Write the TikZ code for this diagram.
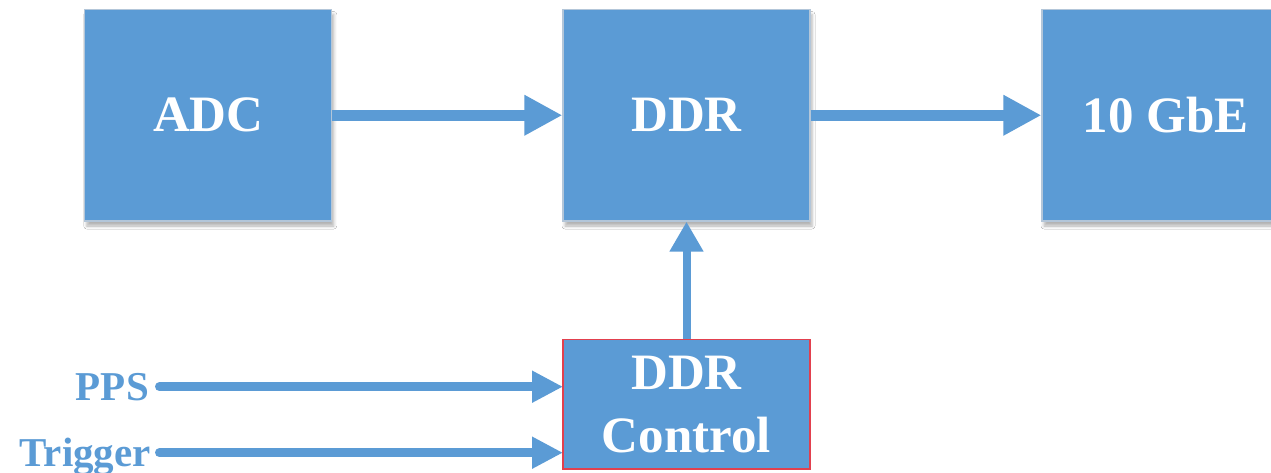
\documentclass[tikz,border=0pt]{standalone}
\usepackage{fontspec}
\setmainfont{Liberation Serif}
\usetikzlibrary{arrows.meta,shadows.blur}
\definecolor{boxblue}{HTML}{5B9BD5}
\definecolor{boxedge}{HTML}{B3C6D9}
\definecolor{ctrledge}{HTML}{E2404E}
\begin{document}
\begin{tikzpicture}[x=1pt,y=-1pt,
  block/.style={fill=boxblue, draw=boxedge, line width=1.2pt,
    minimum width=247pt, minimum height=211.5pt, inner sep=0pt,
    text=white, font=\fontsize{51}{63}\selectfont\bfseries,
    blur shadow={shadow xshift=2pt, shadow yshift=-5pt,
      shadow blur radius=3pt, shadow opacity=30}},
  ctrlblock/.style={fill=boxblue, draw=ctrledge, line width=1.3pt,
    minimum width=247pt, minimum height=129.5pt, inner sep=0pt,
    text=white, align=center, font=\fontsize{51}{63}\selectfont\bfseries},
  lbl/.style={inner sep=0pt, text=boxblue, font=\fontsize{41}{48}\selectfont\bfseries},
  flow/.style={draw=boxblue, line width=11pt, -{Triangle[length=38pt,width=38pt]}},
  upflow/.style={draw=boxblue, line width=8pt, -{Triangle[length=30pt,width=32pt]}},
  sig/.style={draw=boxblue, line width=9pt, line cap=round, -{Triangle[length=31pt,width=30pt]}}]
  \useasboundingbox (0,0) rectangle (1271,472);
  \clip (0,0) rectangle (1271,472);
  \fill[white] (0,0) rectangle (1271,472);

  % processing chain
  \node[block] (adc) at (208.25,115.25) {ADC};
  \node[block] (ddr) at (686.5,115.25) {DDR};
  \node[block] (gbe) at (1165.5,115.25) {10 GbE};

  \draw[flow] (adc.east) -- (ddr.west);
  \draw[flow] (ddr.east) -- (gbe.west);

  % control inputs
  \node[lbl, anchor=base east] (pps) at (149,400) {PPS};
  \node[lbl, anchor=base east] (trig) at (151,466.7) {Trigger};
  \coordinate (ppsin) at (159.5,386.7);
  \coordinate (trigin) at (159.5,452.7);
  \coordinate (ctrlwest) at (563,404);
  \draw[sig] (ppsin) -- (ppsin -| ctrlwest);
  \draw[sig] (trigin) -- (trigin -| ctrlwest);

  % controller drawn over the arrow tips so its outline stays visible
  \node[ctrlblock] (ctrl) at (686.5,404.25) {DDR\\Control};
  \draw[upflow] (ctrl.north) -- (ddr.south);
\end{tikzpicture}
\end{document}
